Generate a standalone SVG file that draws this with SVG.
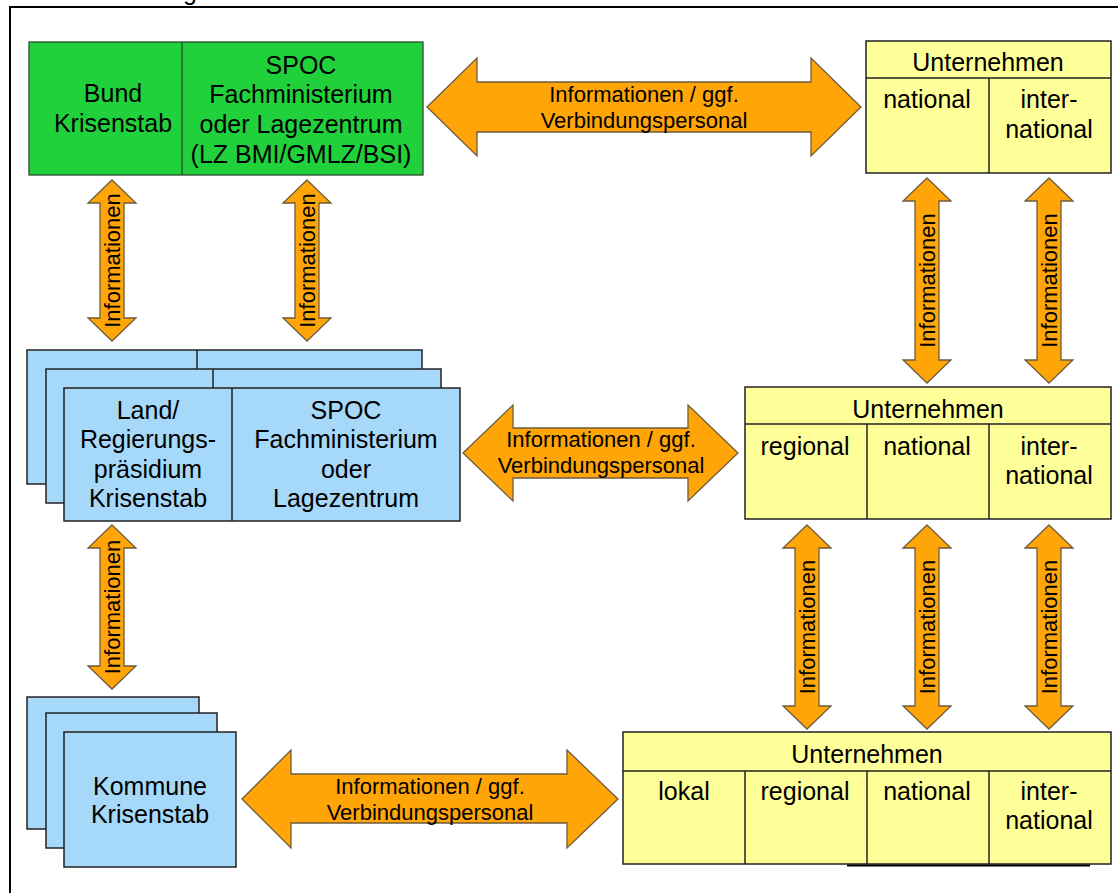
<svg xmlns="http://www.w3.org/2000/svg" width="1118" height="893" viewBox="0 0 1118 893">
  <style>
    .frame { stroke: #000; stroke-width: 2; fill: none; }
    .green { fill: #21d13c; stroke: #2d4a2d; stroke-width: 1.3; }
    .blue { fill: #a6d9f9; stroke: #222; stroke-width: 1.5; }
    .yellow { fill: #ffff99; stroke: #222; stroke-width: 1.5; }
    .div { stroke: #222; stroke-width: 1.5; fill: none; }
    .arrow { fill: #ffa507; stroke: #6e5c3e; stroke-width: 1.3; stroke-linejoin: miter; }
    text { font-family: "Liberation Sans", Arial, sans-serif; fill: #000; text-anchor: middle; }
    .lbl { font-size: 25px; }
    .alb { font-size: 22px; }
  </style>

  <!-- page frame and clipped heading -->
  <g id="frame">
    <path class="frame" d="M10,893 V7 H1118"/>
    <text x="190" y="0" class="lbl">g</text>
  </g>

  <!-- connectors -->
  <g id="connectors">
    <!-- horizontal double arrows -->
    <path class="arrow" d="M427,107 L477,58 L477,82 L811,82 L811,58 L861,107 L811,156 L811,132 L477,132 L477,156 Z"/>
    <text class="alb" x="644" y="102">Informationen / ggf.</text>
    <text class="alb" x="644" y="128">Verbindungspersonal</text>

    <path class="arrow" d="M463,453 L513,405 L513,428 L688,428 L688,405 L738,453 L688,501 L688,478 L513,478 L513,501 Z"/>
    <text class="alb" x="601" y="447">Informationen / ggf.</text>
    <text class="alb" x="601" y="473">Verbindungspersonal</text>

    <path class="arrow" d="M242,799 L291,750 L291,774 L567,774 L567,750 L618,799 L567,848 L567,823 L291,823 L291,848 Z"/>
    <text class="alb" x="430" y="794">Informationen / ggf.</text>
    <text class="alb" x="430" y="820">Verbindungspersonal</text>

    <!-- vertical double arrows -->
    <path class="arrow" d="M112,180 L136,203 L124,203 L124,318 L136,318 L112,341 L88,318 L100,318 L100,203 L88,203 Z"/>
    <text class="alb" transform="translate(120,260.5) rotate(-90)">Informationen</text>

    <path class="arrow" d="M307,180 L331,203 L319,203 L319,318 L331,318 L307,341 L283,318 L295,318 L295,203 L283,203 Z"/>
    <text class="alb" transform="translate(315,260.5) rotate(-90)">Informationen</text>

    <path class="arrow" d="M112,525 L136,548 L124,548 L124,666 L136,666 L112,689 L88,666 L100,666 L100,548 L88,548 Z"/>
    <text class="alb" transform="translate(120,607) rotate(-90)">Informationen</text>

    <path class="arrow" d="M927,178 L951,201 L939,201 L939,360 L951,360 L927,383 L903,360 L915,360 L915,201 L903,201 Z"/>
    <text class="alb" transform="translate(935,280.5) rotate(-90)">Informationen</text>

    <path class="arrow" d="M1049,178 L1073,201 L1061,201 L1061,360 L1073,360 L1049,383 L1025,360 L1037,360 L1037,201 L1025,201 Z"/>
    <text class="alb" transform="translate(1057,280.5) rotate(-90)">Informationen</text>

    <path class="arrow" d="M807,525 L831,548 L819,548 L819,706 L831,706 L807,729 L783,706 L795,706 L795,548 L783,548 Z"/>
    <text class="alb" transform="translate(815,627) rotate(-90)">Informationen</text>

    <path class="arrow" d="M927,525 L951,548 L939,548 L939,706 L951,706 L927,729 L903,706 L915,706 L915,548 L903,548 Z"/>
    <text class="alb" transform="translate(935,627) rotate(-90)">Informationen</text>

    <path class="arrow" d="M1049,525 L1073,548 L1061,548 L1061,706 L1073,706 L1049,729 L1025,706 L1037,706 L1037,548 L1025,548 Z"/>
    <text class="alb" transform="translate(1057,627) rotate(-90)">Informationen</text>
  </g>

  <!-- federal crisis unit -->
  <g id="bund">
    <rect class="green" x="29" y="42" width="394" height="133"/>
    <line x1="182" y1="42" x2="182" y2="175" stroke="#2d4a2d" stroke-width="1.3"/>
    <text class="lbl" x="113" y="102">Bund</text>
    <text class="lbl" x="113" y="132">Krisenstab</text>
    <text class="lbl" x="301" y="74">SPOC</text>
    <text class="lbl" x="301" y="103">Fachministerium</text>
    <text class="lbl" x="301" y="133">oder Lagezentrum</text>
    <text class="lbl" x="301" y="163">(LZ BMI/GMLZ/BSI)</text>
  </g>

  <!-- state level, stacked -->
  <g id="land">
    <rect class="blue" x="27" y="350" width="395" height="134"/>
    <line class="div" x1="197" y1="350" x2="197" y2="484"/>
    <rect class="blue" x="46" y="369" width="395" height="134"/>
    <line class="div" x1="213" y1="369" x2="213" y2="503"/>
    <rect class="blue" x="64" y="388" width="396" height="133"/>
    <line class="div" x1="232" y1="388" x2="232" y2="521"/>
    <text class="lbl" x="148" y="419">Land/</text>
    <text class="lbl" x="148" y="448">Regierungs-</text>
    <text class="lbl" x="148" y="478">präsidium</text>
    <text class="lbl" x="148" y="507">Krisenstab</text>
    <text class="lbl" x="346" y="419">SPOC</text>
    <text class="lbl" x="346" y="448">Fachministerium</text>
    <text class="lbl" x="346" y="478">oder</text>
    <text class="lbl" x="346" y="507">Lagezentrum</text>
  </g>

  <!-- municipal level, stacked -->
  <g id="kommune">
    <rect class="blue" x="27" y="697" width="172" height="132"/>
    <rect class="blue" x="46" y="713" width="171" height="135"/>
    <rect class="blue" x="64" y="732" width="172" height="135"/>
    <text class="lbl" x="150" y="795">Kommune</text>
    <text class="lbl" x="150" y="823">Krisenstab</text>
  </g>

  <!-- companies, national/international -->
  <g id="unternehmen-oben">
    <rect class="yellow" x="866" y="41" width="245" height="132"/>
    <line class="div" x1="866" y1="78" x2="1111" y2="78"/>
    <line class="div" x1="989" y1="78" x2="989" y2="173"/>
    <text class="lbl" x="988" y="71">Unternehmen</text>
    <text class="lbl" x="927" y="108">national</text>
    <text class="lbl" x="1049" y="108">inter-</text>
    <text class="lbl" x="1049" y="138">national</text>
  </g>

  <!-- companies, regional/national/international -->
  <g id="unternehmen-mitte">
    <rect class="yellow" x="745" y="387" width="366" height="132"/>
    <line class="div" x1="745" y1="424" x2="1111" y2="424"/>
    <line class="div" x1="867" y1="424" x2="867" y2="519"/>
    <line class="div" x1="989" y1="424" x2="989" y2="519"/>
    <text class="lbl" x="928" y="418">Unternehmen</text>
    <text class="lbl" x="805" y="455">regional</text>
    <text class="lbl" x="927" y="455">national</text>
    <text class="lbl" x="1049" y="455">inter-</text>
    <text class="lbl" x="1049" y="484">national</text>
  </g>

  <!-- companies, local to international -->
  <g id="unternehmen-unten">
    <rect class="yellow" x="623" y="732" width="488" height="132"/>
    <line class="div" x1="623" y1="771" x2="1111" y2="771"/>
    <line class="div" x1="745" y1="771" x2="745" y2="864"/>
    <line class="div" x1="867" y1="771" x2="867" y2="864"/>
    <line class="div" x1="989" y1="771" x2="989" y2="864"/>
    <line x1="847" y1="865.5" x2="1090" y2="865.5" stroke="#000" stroke-width="2"/>
    <text class="lbl" x="867" y="763">Unternehmen</text>
    <text class="lbl" x="684" y="800">lokal</text>
    <text class="lbl" x="805" y="800">regional</text>
    <text class="lbl" x="927" y="800">national</text>
    <text class="lbl" x="1049" y="800">inter-</text>
    <text class="lbl" x="1049" y="829">national</text>
  </g>
</svg>
